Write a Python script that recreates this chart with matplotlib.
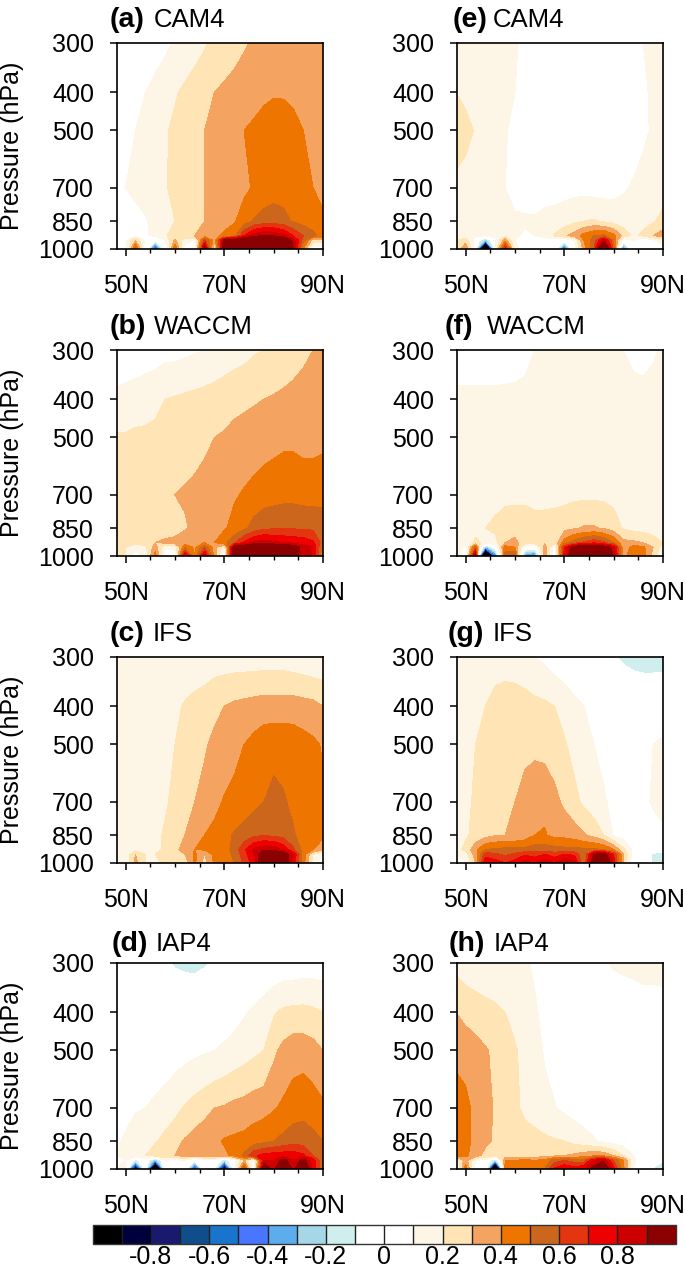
import matplotlib
matplotlib.use("Agg")
import matplotlib.pyplot as plt
from matplotlib.colors import ListedColormap, BoundaryNorm
from matplotlib.ticker import FixedLocator, NullLocator, NullFormatter
import numpy as np

plt.rcParams['font.family'] = ['Liberation Sans', 'DejaVu Sans']

W, H = 685, 1268

lats = [48, 50, 52, 54, 56, 58, 60, 62, 64, 66, 68, 70, 72, 74, 76, 78, 80, 82, 84, 86, 88, 90]
pres = [300, 400, 500, 700, 850, 925, 950, 1000]

levels = [-0.9, -0.8, -0.7, -0.6, -0.5, -0.4, -0.3, -0.2, -0.1, 0, 0.1, 0.2, 0.3, 0.4, 0.5, 0.6, 0.7, 0.8, 0.9]
colors = ['#000000', '#00003c', '#191970', '#104e8b', '#1874cd', '#4876ff', '#5cacee', '#a6d7e6', '#d1eeee',
          '#ffffff', '#ffffff', '#fdf5e6', '#ffe4b5', '#f4a460', '#ee7600', '#cd661d', '#e3350f', '#ee0000',
          '#cd0000', '#8b0000']
cbar_ticks = [-0.8, -0.6, -0.4, -0.2, 0, 0.2, 0.4, 0.6, 0.8]
cbar_labels = ['-0.8', '-0.6', '-0.4', '-0.2', '0', '0.2', '0.4', '0.6', '0.8']

# each row is one pressure level, top (300 hPa) to surface
cam4_a = [
    [.01, .02, .03, .05, .06, .08, .11, .13, .16, .19, .22, .24, .26, .29, .31, .33, .34, .35, .36, .36, .36, .36],
    [.03, .05, .07, .10, .13, .16, .19, .22, .25, .27, .30, .32, .34, .35, .36, .38, .39, .39, .38, .37, .35, .34],
    [.05, .08, .10, .13, .16, .19, .22, .25, .27, .30, .33, .35, .37, .40, .42, .44, .46, .45, .43, .40, .37, .35],
    [.08, .10, .12, .14, .16, .19, .23, .26, .28, .30, .32, .34, .36, .38, .41, .44, .46, .46, .45, .43, .40, .37],
    [.03, .05, .07, .09, .13, .16, .20, .24, .27, .30, .33, .36, .39, .45, .51, .54, .55, .53, .49, .46, .44, .42],
    [.02, .04, .08, .09, .12, .19, .24, .27, .30, .34, .38, .42, .46, .70, .85, .90, .88, .82, .70, .60, .53, .45],
    [.05, .08, .30, .07, -.05, .10, .32, .15, .10, .62, .35, .95, 1.0, 1.1, 1.2, 1.2, 1.2, 1.1, .85, .55, .25, .25],
    [-.08, .03, .55, .02, -.70, -.02, .50, .03, .00, 1.0, .12, 1.1, 1.1, 1.15, 1.2, 1.2, 1.2, 1.1, .90, .40, .02, .05],
]
waccm_b = [
    [.02, .03, .04, .05, .06, .07, .07, .08, .09, .10, .12, .14, .16, .17, .19, .20, .22, .24, .26, .28, .30, .32],
    [.13, .14, .15, .16, .17, .20, .21, .22, .23, .24, .25, .26, .27, .28, .29, .30, .31, .32, .33, .34, .35, .36],
    [.21, .21, .22, .22, .23, .24, .25, .26, .27, .28, .30, .31, .33, .34, .35, .36, .37, .38, .38, .37, .37, .38],
    [.22, .23, .23, .24, .25, .27, .30, .31, .32, .34, .35, .37, .39, .41, .43, .45, .46, .47, .47, .46, .46, .46],
    [.21, .22, .23, .23, .24, .25, .26, .29, .32, .34, .36, .39, .43, .48, .54, .58, .59, .59, .59, .59, .58, .57],
    [.22, .22, .23, .23, .30, .32, .33, .36, .38, .40, .40, .47, .58, .72, .82, .85, .82, .80, .78, .76, .72, .55],
    [.22, .20, .15, .18, .35, .12, .15, .48, .38, .58, .35, .15, 1.0, 1.05, 1.15, 1.2, 1.1, 1.05, 1.0, .85, .80, .45],
    [.22, .20, .02, .12, .45, .00, .00, .85, .40, .85, .35, .00, 1.2, 1.2, 1.2, 1.2, 1.15, 1.05, .95, .85, .78, .40],
]
ifs_c = [
    [.11, .11, .12, .12, .13, .13, .12, .13, .14, .14, .15, .15, .15, .15, .15, .15, .15, .15, .14, .13, .12, .12],
    [.12, .13, .13, .14, .15, .16, .18, .21, .23, .25, .28, .30, .32, .33, .34, .35, .35, .35, .35, .34, .33, .30],
    [.13, .14, .14, .15, .16, .18, .20, .23, .26, .29, .32, .34, .37, .40, .43, .46, .47, .47, .46, .44, .42, .39],
    [.14, .15, .15, .16, .17, .19, .22, .26, .30, .33, .37, .41, .43, .45, .47, .50, .53, .51, .48, .46, .44, .42],
    [.13, .14, .15, .16, .18, .21, .25, .30, .35, .40, .43, .47, .51, .54, .58, .59, .58, .56, .51, .46, .43, .42],
    [.12, .13, .16, .15, .17, .22, .28, .33, .40, .41, .42, .46, .53, .68, .82, .88, .87, .78, .62, .46, .40, .33],
    [.10, .12, .30, .20, .20, .23, .25, .30, .42, .30, .43, .45, .52, .65, .80, 1.02, 1.1, 1.0, .80, .45, .20, .10],
    [.07, .13, .33, .20, .18, .22, .25, .22, .42, .25, .42, .45, .50, .62, .75, 1.05, 1.1, 1.05, .75, .45, .15, .07],
]
iap4_d = [
    [.00, -.01, -.02, -.03, -.05, -.08, -.11, -.12, -.125, -.11, -.09, -.07, -.05, -.03, -.01, .01, .03, .04, .04, .05, .05, .05],
    [.02, .02, .02, .01, .01, .00, .00, .00, .00, .01, .02, .04, .06, .09, .12, .15, .19, .22, .23, .23, .22, .20],
    [.03, .03, .03, .03, .04, .05, .06, .07, .08, .09, .10, .12, .14, .16, .18, .20, .28, .33, .36, .36, .34, .30],
    [.04, .08, .095, .10, .12, .14, .17, .21, .24, .27, .30, .31, .33, .34, .36, .37, .39, .42, .45, .47, .45, .42],
    [.09, .11, .13, .16, .19, .23, .27, .31, .34, .36, .38, .41, .42, .43, .45, .47, .50, .53, .56, .55, .53, .50],
    [.10, .13, .17, .20, .25, .30, .30, .33, .33, .35, .35, .38, .42, .52, .68, .74, .75, .76, .76, .72, .60, .52],
    [.08, .10, -.15, .06, -.35, .10, .08, .10, -.05, .08, .07, -.20, .06, .30, .06, .80, .80, .95, .80, .95, .75, .50],
    [.10, .15, -1.1, .03, -2.0, .08, .00, .03, -.70, .02, -.10, -1.1, .00, .60, .00, 1.05, .85, 1.15, .85, 1.1, .75, .50],
]
cam4_e = [
    [.13, .13, .13, .13, .12, .12, .11, .08, .06, .05, .05, .05, .05, .05, .05, .05, .06, .07, .08, .10, .12, .13],
    [.20, .17, .14, .13, .12, .11, .10, .08, .07, .06, .05, .05, .05, .05, .05, .05, .05, .06, .07, .09, .11, .12],
    [.28, .24, .19, .16, .13, .105, .085, .07, .05, .05, .04, .04, .04, .04, .04, .04, .04, .05, .06, .085, .11, .12],
    [.16, .14, .13, .12, .11, .10, .08, .07, .06, .06, .06, .07, .07, .07, .06, .06, .07, .09, .11, .13, .14, .16],
    [.12, .12, .12, .12, .12, .12, .11, .11, .11, .13, .14, .15, .18, .20, .21, .19, .16, .15, .15, .17, .19, .23],
    [.13, .13, .12, .10, .12, .18, .11, .09, .10, .12, .21, .28, .34, .44, .50, .52, .43, .26, .18, .22, .30, .35],
    [.20, .25, .05, -.30, .08, .35, .10, .04, .03, .07, .05, .00, .10, .40, .55, .85, .50, .02, .10, -.02, .08, .15],
    [.20, .40, .03, -2.2, .10, .75, .15, .03, -.05, .03, .03, -.60, .05, .35, .60, 1.3, .55, -.50, .05, .02, -.15, .05],
]
waccm_f = [
    [.03, .03, .03, .03, .03, .04, .05, .07, .10, .12, .13, .13, .13, .13, .12, .12, .11, .10, .08, .07, .09, .11],
    [.13, .13, .13, .13, .13, .13, .13, .13, .13, .13, .13, .13, .13, .13, .13, .13, .13, .13, .13, .13, .13, .13],
    [.14, .14, .14, .14, .14, .14, .14, .14, .14, .14, .14, .14, .14, .14, .14, .14, .14, .14, .14, .14, .14, .14],
    [.15, .15, .15, .16, .17, .18, .18, .18, .17, .17, .17, .17, .18, .18, .18, .18, .17, .16, .15, .15, .15, .15],
    [.14, .15, .17, .20, .22, .24, .25, .25, .24, .24, .25, .27, .29, .31, .31, .29, .25, .19, .17, .16, .15, .14],
    [.20, .14, .22, .18, .17, .30, .33, .24, .24, .28, .22, .45, .55, .62, .68, .62, .50, .33, .32, .30, .25, .20],
    [.20, .05, .55, -.35, .00, .45, .40, .05, .00, .35, .05, .70, 1.0, 1.05, 1.05, 1.0, .85, .32, .45, .42, .30, .15],
    [.20, .02, .95, -2.2, -.50, .55, .60, -.40, -.50, .35, .03, .75, 1.1, 1.15, 1.15, 1.1, .90, .35, .50, .45, .25, .10],
]
ifs_g = [
    [.14, .14, .14, .14, .14, .14, .13, .12, .10, .08, .05, .03, .01, -.01, -.03, -.06, -.09, -.12, -.14, -.15, -.15, -.15],
    [.14, .16, .18, .20, .25, .27, .27, .25, .23, .22, .20, .17, .13, .10, .08, .06, .04, .03, .02, .02, .02, .03],
    [.14, .16, .20, .23, .25, .27, .28, .28, .28, .27, .25, .21, .17, .13, .10, .08, .06, .05, .05, .07, .10, .12],
    [.14, .17, .22, .24, .26, .28, .30, .33, .36, .37, .33, .28, .23, .18, .14, .11, .08, .06, .06, .08, .11, .13],
    [.13, .19, .22, .26, .295, .30, .31, .34, .40, .41, .37, .37, .35, .31, .27, .20, .09, .05, .03, .03, .06, .08],
    [.17, .22, .38, .50, .52, .53, .53, .53, .55, .55, .54, .53, .53, .52, .52, .50, .40, .22, .08, .03, -.02, -.04],
    [.10, .15, .35, .65, .62, .58, .62, .68, .65, .70, .65, .70, .68, .50, .90, .98, .70, .30, .05, .01, -.12, -.15],
    [.05, .10, .30, .80, .75, .70, .75, .85, .80, .88, .80, .90, .85, .50, 1.1, 1.2, .75, .28, .03, .01, -.13, -.18],
]
iap4_h = [
    [.17, .15, .14, .14, .13, .13, .12, .11, .09, .07, .05, .04, .03, .03, .05, .09, .11, .12, .13, .14, .14, .14],
    [.30, .27, .25, .23, .22, .20, .17, .14, .11, .08, .06, .05, .04, .03, .03, .03, .03, .03, .03, .04, .04, .05],
    [.37, .36, .34, .31, .28, .25, .21, .17, .14, .09, .07, .05, .04, .03, .03, .03, .03, .03, .03, .03, .03, .03],
    [.46, .43, .37, .33, .29, .26, .22, .18, .16, .13, .105, .08, .06, .05, .04, .04, .03, .03, .03, .02, .02, .02],
    [.45, .43, .37, .33, .28, .26, .25, .24, .23, .22, .21, .20, .17, .14, .11, .08, .06, .04, .03, .02, .01, .01],
    [.42, .42, .35, .26, .22, .22, .24, .25, .25, .26, .28, .30, .32, .35, .38, .37, .30, .20, .10, .05, .03, .01],
    [.12, .35, .10, .08, -.25, .40, .40, .42, .40, .42, .55, .60, .55, .55, .80, .88, .58, .40, .12, .03, .00, -.08],
    [.05, .45, .04, .05, -1.9, .45, .42, .45, .42, .50, .72, .80, .75, .80, .95, 1.05, .75, .42, .10, .02, -.12, -.20],
]

panels = [cam4_a, waccm_b, ifs_c, iap4_d, cam4_e, waccm_f, ifs_g, iap4_h]
letters = ['(a)', '(b)', '(c)', '(d)', '(e)', '(f)', '(g)', '(h)']
names = ['CAM4', 'WACCM', 'IFS', 'IAP4', 'CAM4', 'WACCM', 'IFS', 'IAP4']

# layout in pixels
col_left = [117, 457]
row_top = [43, 350, 657, 963]
panel_size = 206
title_x = [(110, 154), (110, 154), (110, 153), (112, 156), (453, 493), (445, 487), (448, 493), (449, 494)]
title_y = [27, 334, 641, 951, 27, 334, 641, 951]


def px_axes(fig, left, top, width, height):
    return fig.add_axes([left / W, 1 - (top + height) / H, width / W, height / H])


fig = plt.figure(figsize=(W / 100, H / 100), dpi=100)
cmap = ListedColormap(colors[1:-1])
cmap.set_under(colors[0])
cmap.set_over(colors[-1])
norm = BoundaryNorm(levels, cmap.N)

for i, data in enumerate(panels):
    col, row = i // 4, i % 4
    ax = px_axes(fig, col_left[col], row_top[row], panel_size, panel_size)
    ax.contourf(lats, pres, np.array(data), levels=levels, cmap=cmap, norm=norm, extend='both')
    ax.set_yscale('log')
    ax.set_xlim(48.25, 90)
    ax.set_ylim(1000, 300)
    ax.yaxis.set_major_locator(FixedLocator([300, 400, 500, 700, 850, 1000]))
    ax.yaxis.set_minor_locator(NullLocator())
    ax.yaxis.set_minor_formatter(NullFormatter())
    ax.set_yticklabels(['300', '400', '500', '700', '850', '1000'])
    ax.set_xticks([50, 70, 90])
    ax.set_xticklabels(['50N', '70N', '90N'])
    ax.set_xticks([55, 60, 65, 75, 80, 85], minor=True)
    ax.tick_params(axis='y', which='major', length=5, width=1.1, labelsize=18, pad=11.5)
    ax.tick_params(axis='x', which='major', length=5, width=1.1, labelsize=18, pad=13)
    ax.tick_params(axis='x', which='minor', length=3, width=1.0)
    for s in ax.spines.values():
        s.set_linewidth(1.2)
    if col == 0:
        fig.text(12 / W, 1 - (row_top[row] + panel_size / 2) / H, 'Pressure (hPa)', rotation=90,
                 fontsize=18, ha='center', va='center')
    fig.text(title_x[i][0] / W, 1 - title_y[i] / H, letters[i], fontsize=20.5, fontweight='bold', va='baseline')
    fig.text(title_x[i][1] / W, 1 - title_y[i] / H, names[i], fontsize=18.5, va='baseline')

# colorbar
cax = px_axes(fig, 92.7, 1225, 583, 19)
sm = plt.cm.ScalarMappable(norm=norm, cmap=cmap)
cb = fig.colorbar(sm, cax=cax, orientation='horizontal', extend='both', extendrect=True,
                  extendfrac='auto', spacing='uniform', drawedges=True, ticks=cbar_ticks)
cb.ax.set_xticklabels(cbar_labels)
cb.ax.tick_params(length=0, labelsize=18, pad=1)
cb.ax.minorticks_off()
cb.dividers.set_color('#222222')
cb.dividers.set_linewidth(1.0)
cb.outline.set_edgecolor('#333333')
cb.outline.set_linewidth(1.0)

fig.savefig('out.png', dpi=100)
